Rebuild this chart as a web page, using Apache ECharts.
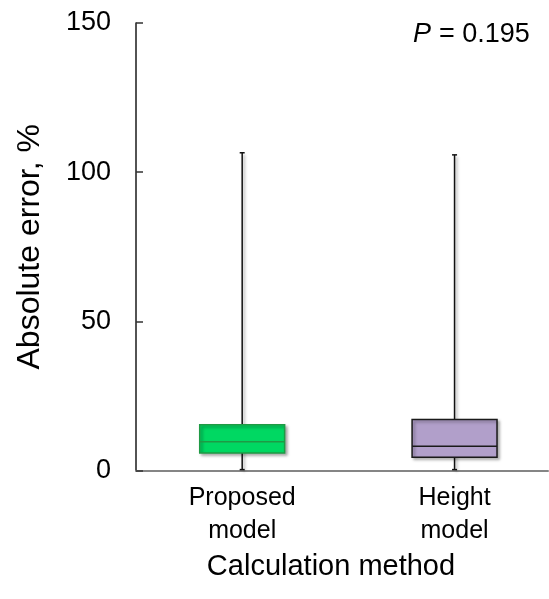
<!DOCTYPE html>
<html>
<head>
<meta charset="utf-8">
<script src="https://cdn.jsdelivr.net/npm/echarts@6/dist/echarts.min.js"></script>
<style>
  html, body { margin: 0; padding: 0; background: #fff; }
  #chart { width: 549px; height: 599px; }
</style>
</head>
<body>
<div id="chart"></div>
<script>
// Absolute error (%) by calculation method: five-number summaries
const categories = ['Proposed\nmodel', 'Height\nmodel'];
const minVals = [0.3, 0.3];
const q1Vals = [5.9, 4.4];
const medianVals = [9.6, 8.1];
const q3Vals = [15.3, 17.1];
const maxVals = [106.5, 105.8];
const yTicks = [0, 50, 100, 150];
const pValueText = '0.195';

const boxFill = ['#00d862', '#b19fca'];
const boxEdge = ['#1f9a45', '#1a1a1a'];

const rows = categories.map((c, i) => [i + 1, minVals[i], q1Vals[i], medianVals[i], q3Vals[i], maxVals[i]]);

const FONT = 'Liberation Sans, Arial, sans-serif';
const chart = echarts.init(document.getElementById('chart'), null, { renderer: 'canvas' });

const shadow = { shadowColor: 'rgba(0,0,0,0.35)', shadowBlur: 3, shadowOffsetX: 2, shadowOffsetY: 2 };

chart.setOption({
  animation: false,
  backgroundColor: '#ffffff',
  grid: { left: 136, right: 1, top: 23, bottom: 128.5, outerBoundsMode: 'none', containLabel: false },
  xAxis: {
    type: 'value',
    min: 0.5,
    max: 2.44,
    interval: 0.5,
    splitLine: { show: false },
    axisTick: { show: false },
    axisLine: { lineStyle: { color: '#858585', width: 2 } },
    axisLabel: {
      showMaxLabel: false,
      showMinLabel: false,
      margin: 11,
      fontFamily: FONT,
      fontSize: 25,
      lineHeight: 33,
      color: '#000',
      formatter: v => (Number.isInteger(v) && v >= 1 && v <= categories.length) ? categories[v - 1] : ''
    },
    name: 'Calculation method',
    nameLocation: 'middle',
    nameGap: 80,
    nameTextStyle: { fontFamily: FONT, fontSize: 29, color: '#000', padding: [0, 22, 0, 0] }
  },
  yAxis: {
    type: 'value',
    min: yTicks[0],
    max: yTicks[yTicks.length - 1],
    interval: 50,
    splitLine: { show: false },
    axisLine: { show: true, lineStyle: { color: '#1a1a1a', width: 1.5 } },
    axisTick: { show: true, inside: true, length: 7, lineStyle: { color: '#333', width: 1.5 } },
    axisLabel: { margin: 25, fontFamily: FONT, fontSize: 27, color: '#000' },
    name: 'Absolute error, %',
    nameLocation: 'middle',
    nameGap: 90,
    nameTextStyle: { fontFamily: FONT, fontSize: 32, color: '#000' }
  },
  graphic: [
    {
      type: 'text',
      left: 413,
      top: 21,
      style: { text: 'P', fontFamily: FONT, fontSize: 27, fontStyle: 'italic', fill: '#000' }
    },
    {
      type: 'text',
      left: 439,
      top: 21,
      style: { text: '= ' + pValueText, fontFamily: FONT, fontSize: 27, fill: '#000' }
    }
  ],
  series: [{
    type: 'custom',
    data: rows,
    encode: { x: 0, y: [1, 2, 3, 4, 5] },
    renderItem: function (params, api) {
      const i = params.dataIndex;
      const x = api.value(0);
      const pMin = api.coord([x, api.value(1)]);
      const pQ1 = api.coord([x, api.value(2)]);
      const pMed = api.coord([x, api.value(3)]);
      const pQ3 = api.coord([x, api.value(4)]);
      const pMax = api.coord([x, api.value(5)]);
      const halfW = api.size([1, 0])[0] * 0.2;
      const cap = 2.5;
      const cx = pMin[0];
      return {
        type: 'group',
        children: [
          {
            type: 'line',
            shape: { x1: cx, y1: pMax[1], x2: cx, y2: pMin[1] },
            style: Object.assign({ stroke: '#111', lineWidth: 1.5 }, shadow)
          },
          {
            type: 'line',
            shape: { x1: cx - cap, y1: pMax[1], x2: cx + cap, y2: pMax[1] },
            style: { stroke: '#111', lineWidth: 1.5 }
          },
          {
            type: 'line',
            shape: { x1: cx - cap, y1: pMin[1], x2: cx + cap, y2: pMin[1] },
            style: { stroke: '#111', lineWidth: 1.5 }
          },
          {
            type: 'rect',
            shape: { x: cx - halfW, y: pQ3[1], width: 2 * halfW, height: pQ1[1] - pQ3[1] },
            style: Object.assign({ fill: boxFill[i], stroke: boxEdge[i], lineWidth: 1.5 }, shadow)
          },
          {
            type: 'line',
            shape: { x1: cx - halfW, y1: pMed[1], x2: cx + halfW, y2: pMed[1] },
            style: { stroke: boxEdge[i], lineWidth: 1.5 }
          }
        ]
      };
    }
  }]
});
</script>
</body>
</html>
